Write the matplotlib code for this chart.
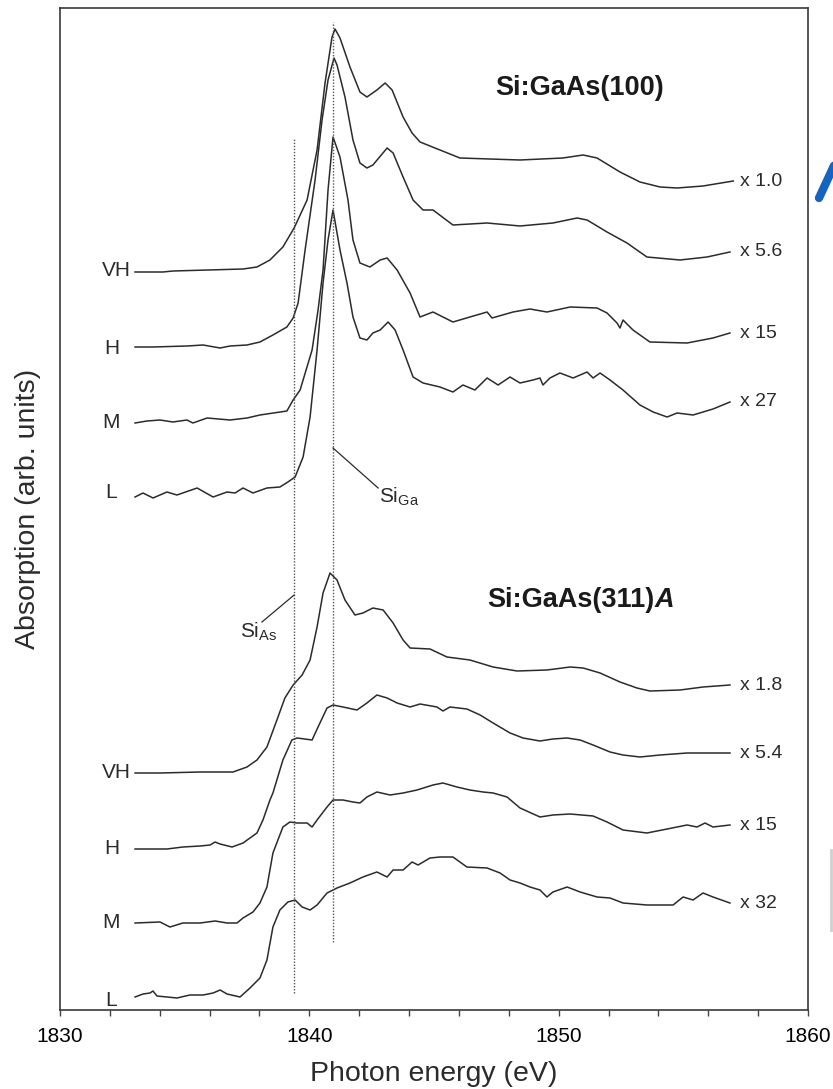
import matplotlib
matplotlib.use("Agg")
import matplotlib.pyplot as plt
from matplotlib.lines import Line2D

plt.rcParams["font.family"] = "Liberation Sans"
plt.rcParams["mathtext.fontset"] = "custom"
plt.rcParams["mathtext.rm"] = "Liberation Sans"
plt.rcParams["mathtext.it"] = "Liberation Sans:italic"

# ---- Si:GaAs(100) spectra (already offset vertically) ----
e100_vh = [1833.01, 1834.13, 1834.53, 1837.34, 1837.90, 1838.42, 1838.94, 1839.39, 1839.91,
           1840.31, 1840.63, 1840.91, 1841.03, 1841.23, 1841.63, 1842.03, 1842.31, 1842.71,
           1843.04, 1843.32, 1843.76, 1844.12, 1844.44, 1845.24, 1846.04, 1848.45, 1850.17,
           1850.98, 1851.54, 1852.46, 1853.26, 1854.07, 1854.75, 1855.79, 1857.00]
a100_vh = [73.8, 73.8, 73.9, 74.1, 74.3, 75.0, 76.3, 78.2, 81.0,
           86.0, 92.7, 97.3, 98.1, 97.2, 94.3, 91.8, 91.3, 92.0,
           92.7, 92.0, 89.3, 87.7, 86.8, 86.0, 85.2, 85.0, 85.2,
           85.5, 85.2, 83.8, 82.8, 82.3, 82.2, 82.4, 82.9]

e100_h = [1833.01, 1833.73, 1835.09, 1835.74, 1836.42, 1836.82, 1837.50, 1838.02, 1838.54,
          1839.10, 1839.35, 1839.55, 1839.83, 1840.23, 1840.51, 1840.75, 1840.99, 1841.11,
          1841.43, 1841.75, 1842.03, 1842.31, 1842.55, 1843.12, 1843.36, 1843.76, 1844.16,
          1844.56, 1844.96, 1845.76, 1847.13, 1848.45, 1849.77, 1850.74, 1851.14, 1851.94,
          1852.74, 1853.54, 1854.87, 1855.95, 1856.87]
a100_h = [66.3, 66.3, 66.4, 66.5, 66.2, 66.4, 66.5, 66.8, 67.5,
          68.3, 69.2, 70.7, 76.0, 83.0, 89.0, 93.0, 95.2, 94.5,
          91.3, 87.0, 84.7, 84.2, 84.5, 86.2, 85.7, 83.3, 81.0,
          80.0, 80.0, 78.5, 78.7, 78.4, 78.7, 79.2, 79.0, 77.8,
          76.7, 75.3, 75.0, 75.3, 75.8]

e100_m = [1833.01, 1833.49, 1834.01, 1834.53, 1835.09, 1835.33, 1835.90, 1836.82, 1837.50,
          1838.02, 1839.10, 1839.35, 1839.63, 1839.75, 1840.11, 1840.35, 1840.55, 1840.75,
          1840.95, 1841.23, 1841.55, 1841.75, 1842.03, 1842.43, 1842.84, 1843.12, 1843.52,
          1844.04, 1844.44, 1844.96, 1845.76, 1846.44, 1847.13, 1847.33, 1848.17, 1848.85,
          1849.53, 1850.46, 1851.54, 1851.94, 1852.34, 1852.46, 1852.58, 1852.98, 1853.66,
          1855.15, 1856.19, 1856.87]
a100_m = [58.7, 58.9, 59.0, 58.8, 59.0, 58.7, 59.2, 59.0, 59.2,
          59.5, 59.9, 61.0, 62.0, 63.0, 66.0, 70.0, 74.0, 82.0,
          87.3, 85.3, 81.0, 77.0, 74.7, 74.3, 75.0, 75.2, 74.0,
          71.7, 69.3, 69.8, 68.8, 69.3, 69.8, 69.2, 69.8, 70.1,
          69.8, 70.3, 70.2, 69.7, 68.7, 68.2, 69.0, 68.0, 66.8,
          66.7, 67.2, 67.7]

e100_l = [1833.01, 1833.33, 1833.73, 1834.29, 1834.69, 1835.50, 1836.14, 1836.70, 1837.02,
          1837.34, 1837.74, 1838.30, 1838.82, 1839.14, 1839.43, 1839.75, 1840.03, 1840.31,
          1840.55, 1840.75, 1840.95, 1841.23, 1841.51, 1841.75, 1842.03, 1842.31, 1842.55,
          1842.84, 1843.16, 1843.44, 1843.76, 1844.16, 1844.56, 1845.24, 1845.76, 1846.16,
          1846.64, 1847.13, 1847.57, 1848.05, 1848.45, 1848.97, 1849.25, 1849.37, 1849.65,
          1850.05, 1850.58, 1851.14, 1851.38, 1851.66, 1852.06, 1852.58, 1853.26, 1853.79,
          1854.35, 1854.75, 1855.39, 1856.19, 1856.87]
a100_l = [51.3, 51.7, 51.2, 51.8, 51.5, 52.2, 51.3, 51.8, 51.7,
          52.2, 51.7, 52.2, 52.3, 52.8, 53.3, 55.3, 59.3, 66.0,
          72.7, 77.0, 80.0, 76.0, 72.7, 69.3, 67.2, 67.0, 67.7,
          68.0, 68.8, 68.0, 66.0, 63.3, 62.7, 62.3, 61.8, 62.5,
          62.0, 63.2, 62.5, 63.3, 62.7, 63.0, 63.2, 62.5, 63.2,
          63.7, 63.2, 63.8, 63.2, 63.7, 63.0, 62.0, 60.5, 59.8,
          59.3, 59.7, 59.5, 60.1, 60.8]

# ---- Si:GaAs(311)A spectra ----
e311_vh = [1833.01, 1834.01, 1835.62, 1836.94, 1837.50, 1837.90, 1838.30, 1838.70, 1839.02,
           1839.35, 1839.71, 1840.03, 1840.31, 1840.55, 1840.83, 1841.11, 1841.43, 1841.83,
           1842.15, 1842.55, 1842.96, 1843.36, 1843.76, 1844.04, 1844.84, 1845.52, 1846.44,
           1847.37, 1848.33, 1849.53, 1850.46, 1850.98, 1851.66, 1852.46, 1853.14, 1853.66,
           1854.87, 1855.79, 1856.87]
a311_vh = [23.7, 23.7, 23.8, 23.8, 24.3, 25.0, 26.3, 29.0, 31.2,
           32.5, 33.5, 35.0, 38.3, 41.7, 43.7, 43.0, 41.0, 39.5,
           39.7, 40.2, 40.0, 38.7, 37.0, 36.2, 36.1, 35.3, 35.0,
           34.3, 33.9, 34.0, 34.3, 34.2, 33.7, 32.8, 32.2, 31.9,
           32.0, 32.3, 32.5]

e311_h = [1833.01, 1834.29, 1834.93, 1835.62, 1836.02, 1836.22, 1836.42, 1836.90, 1837.34,
          1837.90, 1838.14, 1838.42, 1838.54, 1838.94, 1839.30, 1839.51, 1840.11, 1840.35,
          1840.71, 1840.95, 1841.35, 1841.91, 1842.31, 1842.71, 1843.12, 1843.52, 1844.04,
          1844.44, 1845.12, 1845.36, 1845.64, 1846.32, 1846.85, 1847.37, 1848.05, 1848.57,
          1849.25, 1849.77, 1850.34, 1850.86, 1851.38, 1852.06, 1852.58, 1853.26, 1854.07,
          1855.15, 1856.87]
a311_h = [16.1, 16.1, 16.3, 16.4, 16.5, 16.8, 16.6, 16.3, 16.7,
          17.7, 19.0, 21.0, 21.7, 25.0, 27.0, 27.2, 27.0, 28.3,
          30.2, 30.5, 30.3, 30.0, 30.7, 31.5, 31.2, 30.7, 30.3,
          30.6, 30.3, 29.9, 30.3, 30.1, 29.5, 28.7, 27.7, 27.2,
          26.9, 27.1, 27.2, 27.0, 26.5, 25.8, 25.5, 25.3, 25.5,
          25.7, 25.7]

e311_m = [1833.01, 1834.01, 1834.41, 1834.93, 1835.62, 1836.22, 1836.70, 1837.10, 1837.34,
          1837.74, 1838.02, 1838.30, 1838.54, 1838.94, 1839.22, 1839.51, 1839.91, 1840.11,
          1840.31, 1840.71, 1840.95, 1841.35, 1841.75, 1842.03, 1842.31, 1842.71, 1843.24,
          1843.76, 1844.32, 1844.96, 1845.36, 1845.92, 1846.44, 1846.97, 1847.37, 1847.93,
          1848.45, 1849.25, 1849.77, 1850.46, 1851.38, 1851.94, 1852.58, 1853.54, 1854.35,
          1855.15, 1855.55, 1855.87, 1856.19, 1856.87]
a311_m = [8.7, 8.8, 8.3, 8.7, 8.7, 8.9, 8.7, 8.7, 9.2,
          9.8, 10.7, 12.3, 15.7, 18.3, 18.8, 18.7, 18.7, 18.3,
          19.0, 20.3, 21.0, 21.0, 20.8, 20.7, 21.3, 21.8, 21.5,
          21.7, 22.0, 22.5, 22.7, 22.3, 22.0, 21.8, 21.7, 21.3,
          20.2, 19.3, 19.5, 19.6, 19.4, 18.8, 18.0, 17.7, 18.1,
          18.5, 18.3, 18.7, 18.3, 18.5]

e311_l = [1833.01, 1833.33, 1833.61, 1833.73, 1833.89, 1834.69, 1835.21, 1835.74, 1836.14,
          1836.42, 1836.70, 1837.22, 1837.62, 1838.02, 1838.30, 1838.54, 1838.82, 1839.14,
          1839.43, 1839.71, 1840.03, 1840.31, 1840.71, 1841.11, 1841.63, 1842.15, 1842.71,
          1843.12, 1843.36, 1843.76, 1844.12, 1844.36, 1844.84, 1845.24, 1845.76, 1846.32,
          1847.13, 1847.65, 1848.05, 1848.45, 1848.85, 1849.25, 1849.53, 1849.77, 1850.34,
          1850.86, 1851.54, 1852.06, 1852.58, 1853.54, 1854.59, 1854.99, 1855.39, 1855.79,
          1856.19, 1856.87]
a311_l = [1.3, 1.6, 1.7, 1.9, 1.4, 1.2, 1.5, 1.5, 1.7,
          2.0, 1.6, 1.3, 2.2, 3.2, 5.0, 8.3, 10.0, 10.8,
          11.0, 10.3, 10.0, 10.5, 11.7, 12.2, 12.7, 13.3, 13.8,
          13.3, 14.0, 14.0, 14.8, 14.5, 15.2, 15.3, 15.3, 14.3,
          14.2, 13.7, 13.0, 12.7, 12.3, 12.0, 11.3, 11.8, 12.3,
          11.8, 11.3, 11.2, 10.7, 10.5, 10.5, 11.3, 11.0, 11.7,
          11.3, 10.7]

spectra = [
    (e100_vh, a100_vh), (e100_h, a100_h), (e100_m, a100_m), (e100_l, a100_l),
    (e311_vh, a311_vh), (e311_h, a311_h), (e311_m, a311_m), (e311_l, a311_l),
]
sample_labels = ["VH", "H", "M", "L", "VH", "H", "M", "L"]
sample_label_x = [1832.85, 1832.4, 1832.4, 1832.3, 1832.85, 1832.4, 1832.4, 1832.3]
sample_label_y = [74.0, 66.2, 58.7, 51.7, 23.7, 16.2, 8.7, 1.0]
scale_labels = ["x 1.0", "x 5.6", "x 15", "x 27", "x 1.8", "x 5.4", "x 15", "x 32"]

si_as_energy = 1839.39   # Si on As site
si_ga_energy = 1840.95   # Si on Ga site

ink = "#2b2b2b"

fig = plt.figure(figsize=(8.33, 10.89), dpi=100)
ax = fig.add_axes([60 / 833, 1 - 1010 / 1089, 748 / 833, 1002 / 1089])

for (e, a) in spectra:
    ax.plot(e, a, color=ink, lw=1.1, solid_joinstyle="round")

for lab, lx, ly in zip(sample_labels, sample_label_x, sample_label_y):
    ax.text(lx, ly, lab, ha="right", va="center", fontsize=15, color=ink)

for (e, a), lab in zip(spectra, scale_labels):
    ax.text(1857.28, a[-1], lab, ha="left", va="center", fontsize=14, color=ink)

# site markers
ax.plot([si_as_energy, si_as_energy], [1.7, 87.2], ls=(0, (1, 1.2)), color="#555555", lw=1.0)
ax.plot([si_ga_energy, si_ga_energy], [6.8, 98.8], ls=(0, (1, 1.2)), color="#555555", lw=1.0)

ax.plot([si_ga_energy, 1842.76], [56.2, 52.2], color=ink, lw=0.9)
ax.text(1842.80, 51.3, r"Si$_{\mathrm{Ga}}$", ha="left", va="center", fontsize=15, color=ink)
ax.plot([si_as_energy, 1838.10], [41.5, 38.8], color=ink, lw=0.9)
ax.text(1837.22, 37.8, r"Si$_{\mathrm{As}}$", ha="left", va="center", fontsize=15, color=ink)

ax.text(1850.86, 92.2, "Si:GaAs(100)", ha="center", va="center",
        fontsize=19.5, fontweight="bold", color="#1a1a1a")
t311 = ax.text(1850.5, 41.0, "Si:GaAs(311)", ha="center", va="center",
               fontsize=19.5, fontweight="bold", color="#1a1a1a")
ax.annotate("A", xy=(1, 0), xycoords=t311, ha="left", va="bottom",
            fontsize=19.5, fontweight="bold", fontstyle="italic", color="#1a1a1a")

ax.set_xlim(1830, 1860)
ax.set_ylim(0, 100.2)
ax.set_xticks([1830, 1840, 1850, 1860])
ax.set_xticks(range(1830, 1861, 2), minor=True)
ax.tick_params(axis="x", which="both", direction="out", length=4, width=1,
               color="#444444", labelsize=15, pad=8)
ax.set_yticks([])
for sp in ax.spines.values():
    sp.set_color("#3a3a3a")
    sp.set_linewidth(1.2)

ax.set_xlabel("Photon energy (eV)", fontsize=20.5, labelpad=11, color=ink)
ax.set_ylabel("Absorption (arb. units)", fontsize=20.5, labelpad=14, color=ink)

# bits of the neighbouring panel at the right edge
fig.add_artist(Line2D([819 / 833, 838 / 833], [1 - 198 / 1089, 1 - 157 / 1089],
                      color="#1565c0", lw=6, solid_capstyle="round"))
fig.add_artist(Line2D([831 / 833, 831 / 833], [1 - 850 / 1089, 1 - 930 / 1089],
                      color="#cfcfcf", lw=2))

fig.savefig("out.png", dpi=100)
